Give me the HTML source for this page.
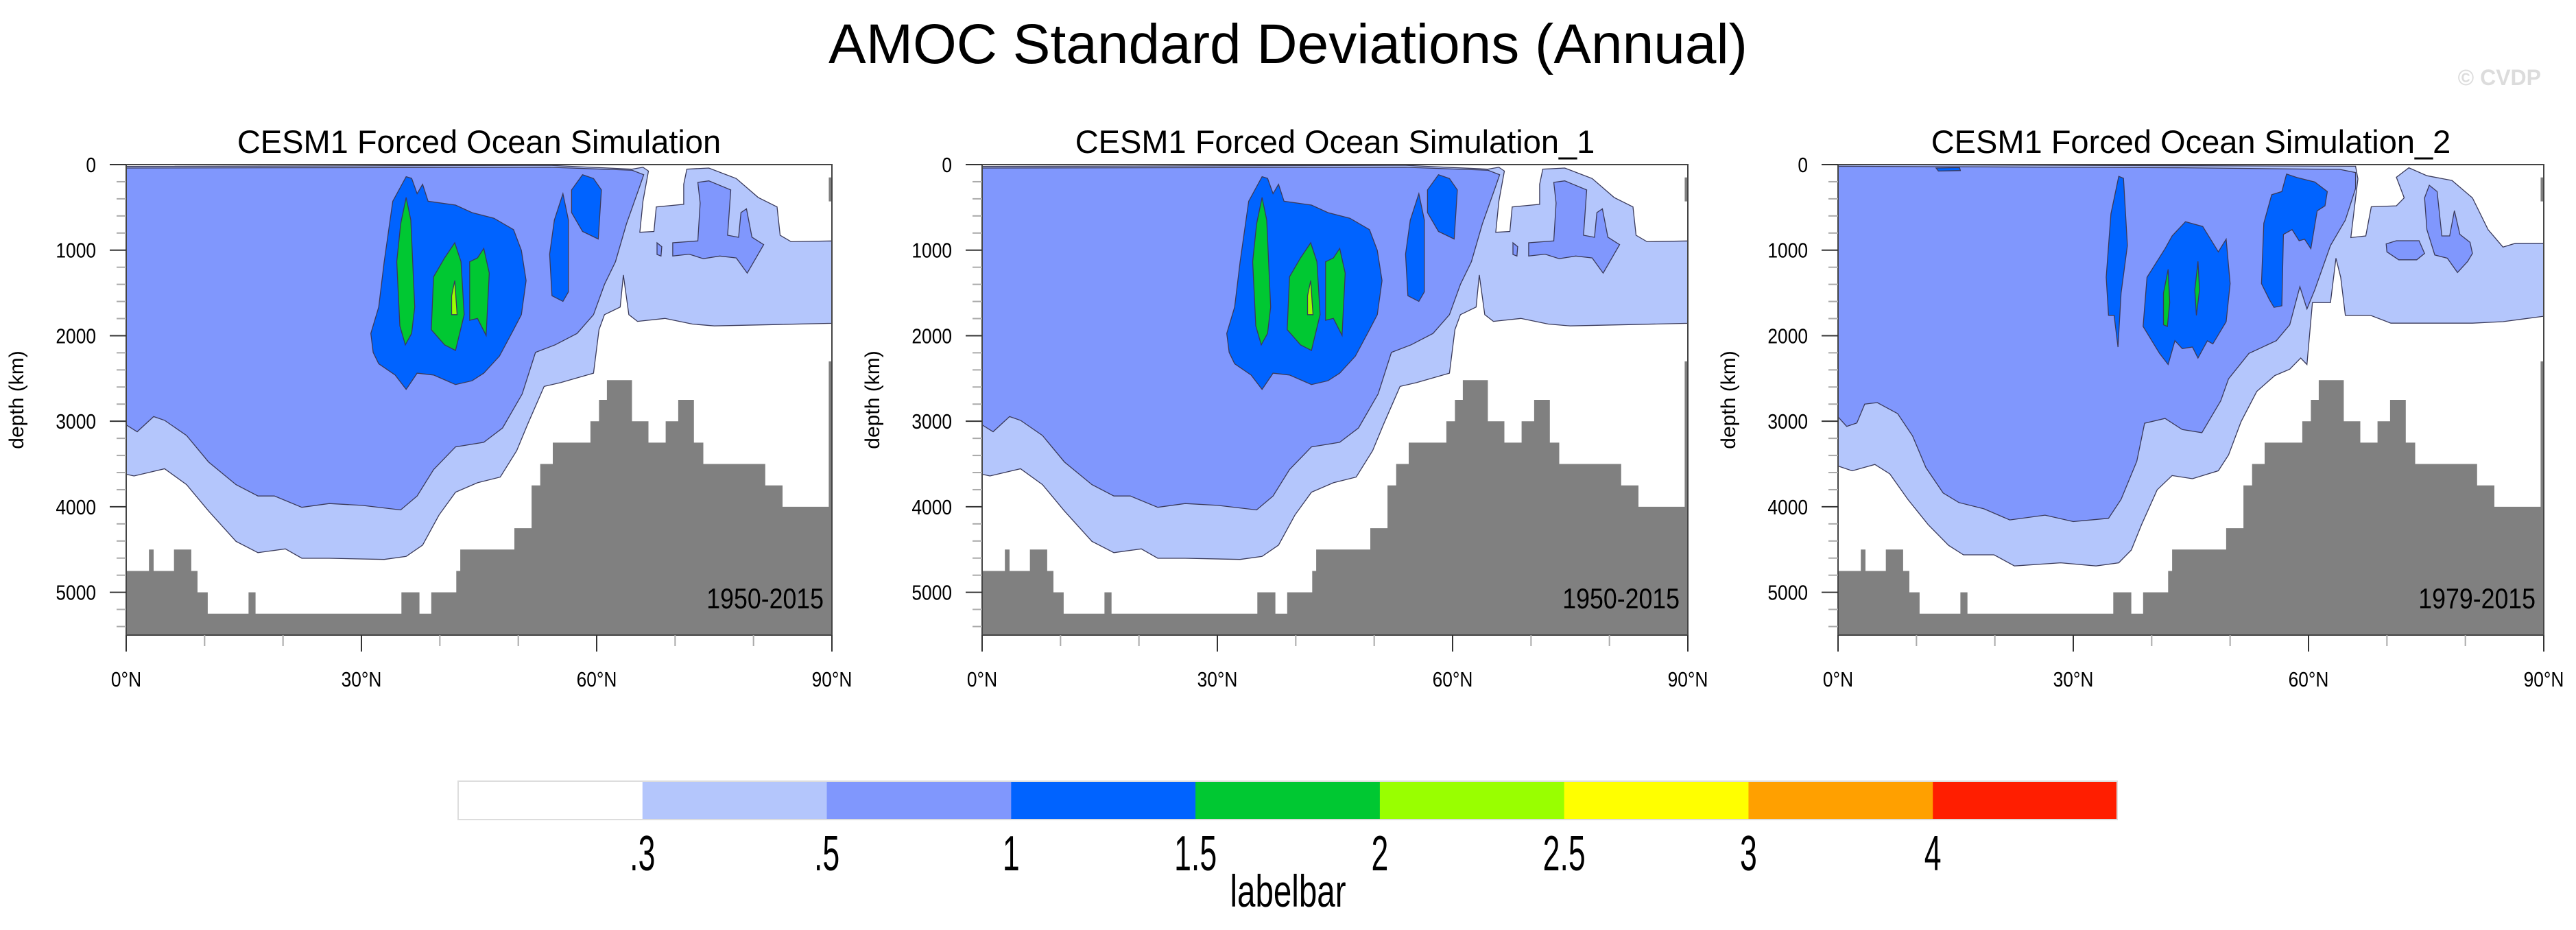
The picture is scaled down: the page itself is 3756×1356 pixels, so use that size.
<!DOCTYPE html>
<html><head><meta charset="utf-8">
<style>
html,body{margin:0;padding:0;background:#fff;}
svg{display:block;font-family:"Liberation Sans",Arial,sans-serif;}
</style></head>
<body>
<svg id="chart" width="3756" height="1356" viewBox="0 0 3756 1356" xmlns="http://www.w3.org/2000/svg">
<rect width="3756" height="1356" fill="#fff"/>
<text x="1878" y="92" font-size="82" text-anchor="middle">AMOC Standard Deviations (Annual)</text>
<text x="3705" y="124" font-size="32" font-weight="bold" fill="#dcdcdc" text-anchor="end">© CVDP</text>
<g id="panels"></g>
<g id="labelbar"></g>
</svg>
<script>
const NS="http://www.w3.org/2000/svg";
// ---- data ----
const panelTitles=["CESM1 Forced Ocean Simulation","CESM1 Forced Ocean Simulation_1","CESM1 Forced Ocean Simulation_2"];
const panelYears=["1950-2015","1950-2015","1979-2015"];
const levelColors=["#ffffff","#b4c6fc","#8097fd","#0063ff","#00c832","#99ff00","#ffff00","#ffa000","#ff1e00"];
const levelLabels=[".3",".5","1","1.5","2","2.5","3","4"];
const yTicks=[0,1000,2000,3000,4000,5000];
const xTicks=[0,30,60,90];
const xTickLabels=["0°N","30°N","60°N","90°N"];
// bathymetry: lat edges and depth of sea floor in each interval
const bathyEdges=[0,2.9,3.5,6.1,8.3,9.1,10.4,15.6,16.5,35.1,37.4,38.9,42.1,42.6,49.5,51.7,52.8,54.4,59.2,60.3,61.3,64.5,66.6,68.8,70.4,72.4,73.6,81.5,83.7,89.6,90];
const bathyDepth=[4750,4500,4750,4500,4750,5000,5250,5000,5250,5000,5250,5000,4750,4500,4250,3750,3500,3250,3000,2750,2520,3000,3250,3000,2750,3250,3500,3750,4000,2300];
// contours panels 1 & 2: [level, [[lat,depth],...]]
const contoursA=[
 [1,[[0,3620],[1,3640],[4.9,3556],[7.7,3741],[10.5,4050],[14,4404],[16.8,4536],[20.3,4492],[22.4,4602],[25.9,4602],[32.9,4616],[35.7,4580],[37.8,4448],[39.9,4095],[42,3830],[44.8,3719],[47.7,3653],[49.8,3344],[51.2,3035],[53.3,2593],[55.4,2549],[59.6,2438],[60.3,1930],[61,1754],[63,1665],[63.4,1290],[64.1,1754],[65.2,1833],[68.7,1798],[72.2,1864],[75,1886],[90,1855],[90,892],[84.8,901],[83.4,826],[83,495],[80.6,384],[77.8,163],[74.3,40],[71.5,53],[71.1,230],[71.1,464],[67.6,495],[67.3,782],[65.5,791],[65.9,428],[66.6,75],[65.9,31],[64.5,53],[54,9],[0,22]]],
 [2,[[0,3043],[1.4,3123],[3.5,2946],[4.9,2990],[7.7,3167],[10.5,3476],[14,3741],[16.8,3874],[18.9,3874],[22.4,4006],[25.9,3962],[30.1,3984],[35,4037],[37.1,3874],[39.2,3565],[42,3300],[45.6,3246],[48,3079],[50.5,2681],[52.2,2195],[54.7,2107],[57.5,1974],[59.6,1754],[61,1400],[62.4,1135],[63.8,693],[65.5,252],[66,119],[64.5,66],[54,31],[0,40]]],
 [2,[[72.9,208],[74.3,190],[77.1,296],[76.7,826],[78.1,850],[78.4,561],[79.1,517],[79.8,848],[81.3,936],[79.2,1268],[77.8,1091],[75.7,1069],[73.6,1100],[71.8,1047],[69.7,1069],[69.7,914],[72.9,892],[73.2,450]]],
 [2,[[67.7,914],[68.3,960],[68.2,1069],[67.7,1050]]],
 [3,[[35.7,141],[36.4,160],[37.1,340],[37.8,230],[38.5,428],[42,473],[44.1,561],[46.9,627],[49.4,760],[50.4,1003],[51,1356],[50.4,1754],[49.4,1930],[47.6,2239],[45.6,2438],[44.1,2527],[42,2571],[39.2,2460],[37.1,2438],[35.7,2628],[34.3,2460],[32.2,2328],[31.5,2195],[31.2,1974],[32.2,1665],[32.9,1135],[34,428]]],
 [3,[[55.7,340],[56.4,649],[56.4,1488],[55.7,1599],[54.3,1533],[54,1047],[54.6,649]]],
 [3,[[58.2,119],[59.6,163],[60.6,296],[60.2,870],[59.2,826],[58.2,782],[56.8,561],[56.8,296]]],
 [4,[[35.7,384],[36.3,649],[36.8,1665],[36.4,1974],[35.6,2107],[34.9,1886],[34.5,1135],[35,693]]],
 [4,[[41.9,914],[42.7,1135],[43.1,1754],[42,2173],[40.6,2107],[38.9,1930],[39.2,1312],[40.6,1091]]],
 [4,[[45.6,980],[46.3,1268],[45.9,1997],[44.8,1798],[43.8,1820],[43.8,1135],[44.8,1091]]],
 [5,[[41.9,1356],[42.2,1754],[41.5,1754],[41.5,1533]]]
];
const contoursC=[
 [1,[[0,3524],[1.8,3580],[4.7,3505],[6.6,3616],[8.9,3913],[11.5,4210],[14.1,4451],[16,4562],[19.9,4562],[22.5,4692],[28.4,4655],[32.9,4692],[35.8,4655],[37.4,4506],[38.7,4210],[40.7,3802],[42.6,3635],[45.2,3672],[48.5,3579],[49.8,3394],[51.4,3004],[53.4,2652],[55.7,2466],[57.6,2392],[59,2262],[59.8,2337],[60.5,1613],[62.8,1613],[63.5,1094],[64.1,1317],[64.7,1762],[67.9,1762],[70.5,1854],[80.9,1854],[84.8,1836],[90,1773],[90,920],[86.4,920],[84.8,964],[82.9,760],[80.9,389],[78.3,185],[75.1,130],[72.8,37],[71.2,148],[72.2,389],[71.2,482],[68,493],[67.3,834],[65.4,853],[66.3,167],[66,19],[0,0]]],
 [2,[[0,2949],[1.1,3060],[2.4,3020],[3.4,2800],[5,2782],[7.6,2911],[9.5,3171],[11.2,3542],[13.4,3839],[15.4,3950],[18.6,4024],[21.9,4154],[26.4,4098],[30,4173],[34.5,4135],[36.1,3913],[38.1,3468],[39.1,3023],[41.7,2967],[43.9,3097],[46.4,3134],[48.8,2763],[49.8,2504],[52.4,2207],[55.9,2058],[57.6,1873],[58.9,1428],[59.8,1688],[60.8,1465],[62.8,946],[64.7,649],[66,278],[66,93],[64,56],[44,37],[0,19]]],
 [2,[[75.4,241],[76.4,315],[77,834],[78,834],[78.6,538],[79.3,816],[80.6,909],[80.9,1038],[80.3,1131],[79,1261],[77.7,1094],[76.1,1057],[75.1,760],[74.8,389]]],
 [2,[[69.9,927],[71.2,890],[74.1,890],[74.8,1038],[73.8,1113],[71.5,1113],[70,1020]]],
 [3,[[35.8,137],[36.4,160],[36.9,946],[36.1,1502],[35.7,2133],[35.2,1762],[34.5,1762],[34.2,1317],[34.8,575]]],
 [3,[[44.3,668],[46.5,723],[48.5,1020],[49.5,872],[50,1391],[49.5,1836],[47.8,2096],[47.1,2060],[45.9,2262],[45.2,2133],[43.9,2151],[42.96,2058],[42.1,2337],[41,2207],[38.9,1892],[39.4,1317],[41.7,983],[42.6,834]]],
 [3,[[57.2,111],[58.5,150],[60.8,204],[62.4,315],[62.1,482],[61.1,540],[60.3,983],[59.5,872],[58.8,890],[57.9,760],[56.8,816],[56.6,1651],[55.6,1669],[55,1576],[54,1391],[54.3,686],[55.3,352],[56.6,315]]],
 [3,[[12.5,40],[15.5,35],[15.6,70],[12.8,75]]],
 [4,[[42.1,1224],[42.3,1613],[42,1892],[41.5,1873],[41.5,1502]]],
 [4,[[45.9,1131],[46.1,1465],[45.7,1762],[45.5,1465]]]
];
const panelContours=[contoursA,contoursA,contoursC];
// ---- layout ----
const PX=[184,1432,2680], PW=1029, PY=240, PH=686, DMAX=5500, LMAX=90;
function el(tag,attrs,parent){const e=document.createElementNS(NS,tag);for(const k in attrs)e.setAttribute(k,attrs[k]);parent.appendChild(e);return e;}
function ntext(parent,x,y,size,anchor,sxf,str){
  const t=el('text',{x:0,y:0,'font-size':size,'text-anchor':anchor,transform:`translate(${x},${y}) scale(${sxf},1)`},parent);
  t.textContent=str;return t;
}
const panels=document.getElementById('panels');
for(let p=0;p<3;p++){
  const x0=PX[p];
  const sx=lat=>x0+lat/LMAX*PW;
  const sy=d=>PY+d/DMAX*PH;
  const g=el('g',{},panels);
  
  
  const t=ntext(g,x0+PW/2,223,47,'middle',1,panelTitles[p]);
  
  
  const cg=el('g',{},g);
  
  
  panelContours[p].forEach(c=>{
    const pts=c[1].map(q=>sx(q[0]).toFixed(1)+','+sy(q[1]).toFixed(1)).join(' ');
    const pg=el('polygon',{points:pts,fill:levelColors[c[0]],stroke:'#3a3a5a','stroke-width':1.3},cg);
    
    
  });
  let d='M'+sx(0)+','+sy(DMAX);
  for(let i=0;i<bathyDepth.length;i++){
    d+=' L'+sx(bathyEdges[i]).toFixed(1)+','+sy(bathyDepth[i]).toFixed(1)+' L'+sx(bathyEdges[i+1]).toFixed(1)+','+sy(bathyDepth[i]).toFixed(1);
  }
  d+=' L'+sx(LMAX)+','+sy(DMAX)+' Z';
  const bp=el('path',{d:d,fill:'#808080'},g);
  
  
  const br=el('rect',{x:sx(89.6),y:sy(150),width:sx(90)-sx(89.6),height:sy(430)-sy(150),fill:'#808080'},g);
  
  
  const fr=el('rect',{x:x0,y:PY,width:PW,height:PH,fill:'none',stroke:'#444','stroke-width':2},g);
  
  
  for(let dd=0;dd<=DMAX;dd+=200){
    const major=dd%1000===0;
    el('line',{x1:x0,x2:x0-(major?24:14),y1:sy(dd),y2:sy(dd),stroke:major?'#333':'#aaa','stroke-width':2},g);
  }
  yTicks.forEach(v=>{
    const tl=ntext(g,x0-44,sy(v)+11,31,'end',0.85,String(v));
    
    
  });
  const yt=el('text',{x:0,y:0,'font-size':30,'text-anchor':'middle',transform:`translate(${x0-150},${PY+PH/2}) rotate(-90)`},g);
  yt.textContent='depth (km)';
  
  
  for(let l=0;l<=LMAX;l+=10){
    const major=l%30===0;
    el('line',{x1:sx(l),x2:sx(l),y1:PY+PH,y2:PY+PH+(major?24:16),stroke:major?'#333':'#aaa','stroke-width':2},g);
  }
  xTicks.forEach((v,i)=>{
    const tl=ntext(g,sx(v),1001,31,'middle',0.85,xTickLabels[i]);
    
    
  });
  const yr=ntext(g,x0+PW-12,887,42,'end',0.85,panelYears[p]);
  
  
}
const lb=document.getElementById('labelbar');
const LBX=668,LBW=2419,LBY=1139,LBH=56,n=levelColors.length,bw=LBW/n;
levelColors.forEach((c,i)=>{
  const r=el('rect',{x:LBX+i*bw,y:LBY,width:bw+0.5,height:LBH,fill:c},lb);
  
  
});
el('rect',{x:LBX,y:LBY,width:LBW,height:LBH,fill:'none',stroke:'#ddd','stroke-width':2},lb);
levelLabels.forEach((s,i)=>{
  const tl=ntext(lb,LBX+(i+1)*bw,1269,72,'middle',0.62,s);
  
  
});
const lt=ntext(lb,1878,1322,66,'middle',0.72,'labelbar');


</script>
</body></html>
